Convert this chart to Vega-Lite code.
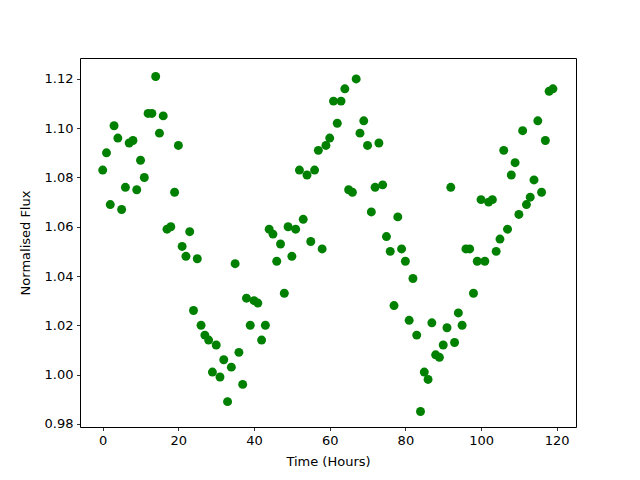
{
  "$schema": "https://vega.github.io/schema/vega-lite/v6.json",
  "autosize": {"type": "none"},
  "width": 496,
  "height": 369,
  "padding": {"left": 80, "top": 58, "right": 64, "bottom": 53},
  "background": "white",
  "config": {
    "view": {"stroke": "black", "strokeWidth": 1},
    "font": "DejaVu Sans",
    "axis": {
      "grid": false,
      "domain": false,
      "tickColor": "black",
      "tickSize": 3.5,
      "tickWidth": 0.8,
      "labelFont": "DejaVu Sans",
      "labelFontSize": 13,
      "labelColor": "black",
      "labelPadding": 3.5,
      "titleFont": "DejaVu Sans",
      "titleFontSize": 13,
      "titleFontWeight": "normal",
      "titleColor": "black"
    }
  },
  "data": {
    "values": [
      {"t": 0, "f": 1.083}, {"t": 1, "f": 1.090}, {"t": 2, "f": 1.069}, {"t": 3, "f": 1.101},
      {"t": 4, "f": 1.096}, {"t": 5, "f": 1.067}, {"t": 6, "f": 1.076}, {"t": 7, "f": 1.094},
      {"t": 8, "f": 1.095}, {"t": 9, "f": 1.075}, {"t": 10, "f": 1.087}, {"t": 11, "f": 1.080},
      {"t": 12, "f": 1.106}, {"t": 13, "f": 1.106}, {"t": 14, "f": 1.121}, {"t": 15, "f": 1.098},
      {"t": 16, "f": 1.105}, {"t": 17, "f": 1.059}, {"t": 18, "f": 1.060}, {"t": 19, "f": 1.074},
      {"t": 20, "f": 1.093}, {"t": 21, "f": 1.052}, {"t": 22, "f": 1.048}, {"t": 23, "f": 1.058},
      {"t": 24, "f": 1.026}, {"t": 25, "f": 1.047}, {"t": 26, "f": 1.020}, {"t": 27, "f": 1.016},
      {"t": 28, "f": 1.014}, {"t": 29, "f": 1.001}, {"t": 30, "f": 1.012}, {"t": 31, "f": 0.999},
      {"t": 32, "f": 1.006}, {"t": 33, "f": 0.989}, {"t": 34, "f": 1.003}, {"t": 35, "f": 1.045},
      {"t": 36, "f": 1.009}, {"t": 37, "f": 0.996}, {"t": 38, "f": 1.031}, {"t": 39, "f": 1.020},
      {"t": 40, "f": 1.030}, {"t": 41, "f": 1.029}, {"t": 42, "f": 1.014}, {"t": 43, "f": 1.020},
      {"t": 44, "f": 1.059}, {"t": 45, "f": 1.057}, {"t": 46, "f": 1.046}, {"t": 47, "f": 1.053},
      {"t": 48, "f": 1.033}, {"t": 49, "f": 1.060}, {"t": 50, "f": 1.048}, {"t": 51, "f": 1.059},
      {"t": 52, "f": 1.083}, {"t": 53, "f": 1.063}, {"t": 54, "f": 1.081}, {"t": 55, "f": 1.054},
      {"t": 56, "f": 1.083}, {"t": 57, "f": 1.091}, {"t": 58, "f": 1.051}, {"t": 59, "f": 1.093},
      {"t": 60, "f": 1.096}, {"t": 61, "f": 1.111}, {"t": 62, "f": 1.102}, {"t": 63, "f": 1.111},
      {"t": 64, "f": 1.116}, {"t": 65, "f": 1.075}, {"t": 66, "f": 1.074}, {"t": 67, "f": 1.120},
      {"t": 68, "f": 1.098}, {"t": 69, "f": 1.103}, {"t": 70, "f": 1.093}, {"t": 71, "f": 1.066},
      {"t": 72, "f": 1.076}, {"t": 73, "f": 1.094}, {"t": 74, "f": 1.077}, {"t": 75, "f": 1.056},
      {"t": 76, "f": 1.050}, {"t": 77, "f": 1.028}, {"t": 78, "f": 1.064}, {"t": 79, "f": 1.051},
      {"t": 80, "f": 1.046}, {"t": 81, "f": 1.022}, {"t": 82, "f": 1.039}, {"t": 83, "f": 1.016},
      {"t": 84, "f": 0.985}, {"t": 85, "f": 1.001}, {"t": 86, "f": 0.998}, {"t": 87, "f": 1.021},
      {"t": 88, "f": 1.008}, {"t": 89, "f": 1.007}, {"t": 90, "f": 1.012}, {"t": 91, "f": 1.019},
      {"t": 92, "f": 1.076}, {"t": 93, "f": 1.013}, {"t": 94, "f": 1.025}, {"t": 95, "f": 1.020},
      {"t": 96, "f": 1.051}, {"t": 97, "f": 1.051}, {"t": 98, "f": 1.033}, {"t": 99, "f": 1.046},
      {"t": 100, "f": 1.071}, {"t": 101, "f": 1.046}, {"t": 102, "f": 1.070}, {"t": 103, "f": 1.071},
      {"t": 104, "f": 1.050}, {"t": 105, "f": 1.055}, {"t": 106, "f": 1.091}, {"t": 107, "f": 1.059},
      {"t": 108, "f": 1.081}, {"t": 109, "f": 1.086}, {"t": 110, "f": 1.065}, {"t": 111, "f": 1.099},
      {"t": 112, "f": 1.069}, {"t": 113, "f": 1.072}, {"t": 114, "f": 1.079}, {"t": 115, "f": 1.103},
      {"t": 116, "f": 1.074}, {"t": 117, "f": 1.095}, {"t": 118, "f": 1.115}, {"t": 119, "f": 1.116}
    ]
  },
  "mark": {"type": "point", "filled": true, "opacity": 1, "size": 80, "color": "#008000"},
  "encoding": {
    "x": {
      "field": "t", "type": "quantitative",
      "scale": {"domain": [-6.0, 125.1], "nice": false, "zero": false},
      "axis": {"title": "Time (Hours)", "values": [0, 20, 40, 60, 80, 100, 120], "titlePadding": 8}
    },
    "y": {
      "field": "f", "type": "quantitative",
      "scale": {"domain": [0.9787, 1.1285], "nice": false, "zero": false},
      "axis": {"title": "Normalised Flux", "values": [0.98, 1.0, 1.02, 1.04, 1.06, 1.08, 1.1, 1.12], "format": ".2f", "titlePadding": 12}
    }
  }
}
